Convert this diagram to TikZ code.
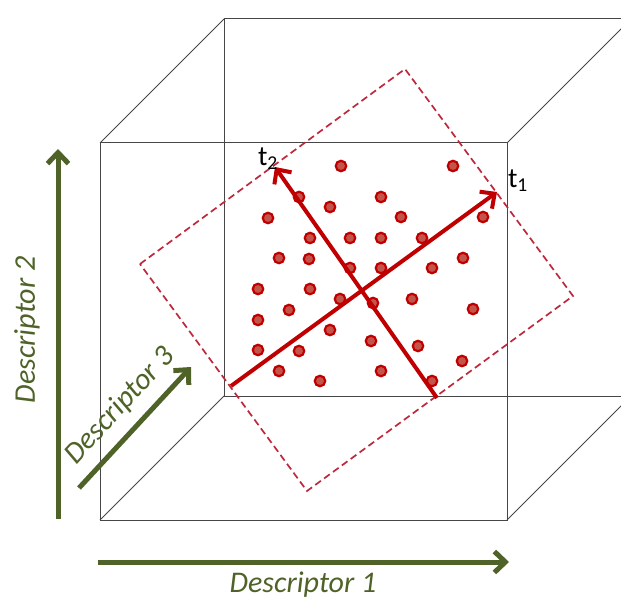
\documentclass[tikz,border=0pt]{standalone}
\usepackage{fontspec}
\setmainfont{Carlito}
\usetikzlibrary{arrows.meta,positioning}
\definecolor{descGreen}{RGB}{79,98,40}
\definecolor{axisRed}{RGB}{192,0,0}
\definecolor{dotFill}{RGB}{196,84,74}
\definecolor{dashRed}{RGB}{190,40,60}
\definecolor{cubeGray}{RGB}{70,70,70}
\tikzstyle{cubeLine} = [draw=cubeGray, line width=1pt]
\tikzstyle{dashBox} = [draw=dashRed, line width=1.7pt, dash pattern=on 7pt off 4pt]
\tikzstyle{dotNode} = [circle, inner sep=0pt, minimum size=10.5pt, fill=dotFill, draw=axisRed, line width=2.2pt]
\tikzstyle{arrowR} = [line width=4pt, draw=axisRed, -{Straight Barb[length=11pt,width=21pt]}]
\tikzstyle{arrowG} = [line width=5pt, draw=descGreen, -{Straight Barb[length=11pt,width=21pt]}]
\tikzstyle{descNode} = [text=descGreen, font=\fontsize{30}{36}\selectfont\itshape, inner sep=0pt]
\tikzstyle{tNode} = [text=black, font=\fontsize{28}{32}\selectfont, inner sep=0pt]

\begin{document}
\begin{tikzpicture}[x=1pt, y=-1pt]
        \useasboundingbox (0,0) rectangle (621,601);
        \clip (0,0) rectangle (621,601);

        % cube
        \coordinate (fa) at (100,143);
        \coordinate (fb) at (507,143);
        \coordinate (fc) at (507,520);
        \coordinate (fd) at (100,520);
        \coordinate (ba) at (224,19);
        \coordinate (bb) at (631,19);
        \coordinate (bc) at (631,396);
        \coordinate (bd) at (224,396);
        \draw [cubeLine] (fa) -- (fb) -- (fc) -- (fd) -- cycle;
        \draw [cubeLine] (ba) -- (bb) -- (bc) -- (bd) -- cycle;
        \draw [cubeLine] (fa) -- (ba);
        \draw [cubeLine] (fb) -- (bb);
        \draw [cubeLine] (fc) -- (bc);
        \draw [cubeLine] (fd) -- (bd);

        % plane
        \coordinate (pl) at (140,264);
        \coordinate (pt) at (405,69);
        \coordinate (pr) at (573,296);
        \coordinate (pb) at (307,491);
        \draw [dashBox] (pl) -- (pt) -- (pr) -- (pb) -- cycle;

        % samples
        \foreach \x/\y [count=\i] in {341/166, 453/166, 299/197, 381/197, 330/207, 268/218,
                401/217, 483/217, 310/238, 350/238, 381/238, 422/238, 279/258, 309/259,
                463/258, 350/268, 381/268, 432/268, 258/289, 310/289, 340/299, 373/303,
                412/299, 289/310, 473/309, 258/320, 330/330, 371/341, 418/346, 258/350,
                299/351, 462/361, 279/371, 381/371, 320/381, 432/381}
            \node (dot\i) [dotNode] at (\x,\y) {};

        % components
        \coordinate (t1s) at (231,386);
        \coordinate (t1e) at (497,192);
        \coordinate (t2s) at (437,398);
        \coordinate (t2e) at (275,167);
        \draw [arrowR] (t1s) -- (t1e);
        \draw [arrowR] (t2s) -- (t2e);
        \node (t1) [tNode] at (518,181) {t\textsubscript{1}};
        \node (t2) [tNode] at (268,159) {t\textsubscript{2}};

        % descriptors
        \coordinate (d1s) at (98,562);
        \coordinate (d1e) at (509,562);
        \coordinate (d2s) at (58,519);
        \coordinate (d2e) at (58,149);
        \coordinate (d3s) at (79,488);
        \coordinate (d3e) at (191,367);
        \draw [arrowG] (d1s) -- (d1e);
        \draw [arrowG] (d2s) -- (d2e);
        \draw [arrowG] (d3s) -- (d3e);
        \node (d1) [descNode] at (303,585) {Descriptor 1};
        \node (d2) [descNode, rotate=90] at (27,330) {Descriptor 2};
        \node (d3) [descNode, rotate=47.5] at (120,406) {Descriptor 3};

    \end{tikzpicture}
\end{document}
